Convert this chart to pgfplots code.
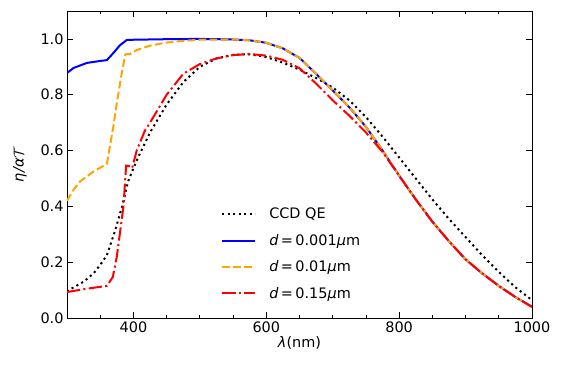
\documentclass[border=0pt]{standalone}
\usepackage{fontspec}
\setmainfont{DejaVu Sans}
\usepackage{pgfplots}
\pgfplotsset{compat=1.18}

\definecolor{mplorange}{RGB}{255,165,0}
\newcommand{\mplfont}{\fontsize{14.5}{17}\selectfont}

\begin{document}
\begin{tikzpicture}[font=\mplfont]
\begin{axis}[
    scale only axis,
    width=465bp, height=307bp,
    xmin=300, xmax=1000,
    ymin=0, ymax=1.1,
    xtick={400,600,800,1000},
    minor xtick={300,350,...,1000},
    ytick={0,0.2,...,1.0},
    tick align=inside,
    major tick length=6bp,
    minor tick length=3.5bp,
    axis line style={line width=0.8pt},
    every tick/.style={black, line width=0.8pt},
    tick label style={font=\mplfont},
    label style={font=\mplfont},
    /pgf/number format/assume math mode=true,
    /pgf/number format/set thousands separator={},
    yticklabel style={/pgf/number format/.cd, fixed, fixed zerofill, precision=1},
    xlabel={\textit{λ}(nm)},
    ylabel={\textit{η/α}$\mathcal{T}$},
    xlabel style={yshift=3bp},
    ylabel style={yshift=7bp},
    legend cell align=left,
    legend style={at={(0.325,0.046)}, anchor=south west, draw=none, fill=none,
        row sep=10bp, font=\mplfont},
    legend image code/.code={\draw[#1] (0bp,0bp) -- (33bp,0bp); \path (44bp,0bp);},
]
\coordinate (A) at (rel axis cs:0,0);
\coordinate (B) at (rel axis cs:1,1);

\addplot[black, line width=2bp, dash pattern=on 2.1bp off 3.4bp] coordinates {
(300,0.095) (310,0.11) (325,0.13) (340,0.16) (350,0.19) (360,0.225)
(372,0.31) (383,0.40) (392,0.49) (405,0.565) (425,0.665) (450,0.765)
(475,0.845) (500,0.90) (525,0.93) (550,0.943) (575,0.945) (600,0.935)
(625,0.915) (650,0.89) (675,0.86) (700,0.826) (725,0.78) (750,0.72)
(775,0.65) (800,0.575) (825,0.50) (850,0.425) (875,0.355) (900,0.29)
(925,0.225) (950,0.165) (975,0.11) (1000,0.064)
};
\addlegendentry{CCD QE}

\addplot[blue, line width=2bp] coordinates {
(300,0.878) (310,0.896) (330,0.914) (350,0.921) (360,0.924) (370,0.95)
(380,0.978) (390,0.996) (400,0.997) (450,0.999) (500,1.0) (550,0.998)
(575,0.995) (600,0.986) (625,0.966) (650,0.932) (675,0.875) (700,0.815)
(725,0.755) (750,0.685) (775,0.60) (800,0.51) (825,0.425) (850,0.345)
(875,0.275) (900,0.21) (925,0.16) (950,0.115) (975,0.075) (1000,0.04)
};
\addlegendentry{\textit{d}\,=\,0.001\textit{μ}m}

\addplot[mplorange, line width=2bp, dash pattern=on 7.7bp off 3.3bp] coordinates {
(300,0.42) (310,0.46) (320,0.49) (340,0.525) (360,0.552) (365,0.62)
(370,0.69) (375,0.77) (383,0.886) (388,0.945) (395,0.946) (405,0.96)
(425,0.976) (450,0.987) (475,0.993) (500,0.997) (550,0.998)
(575,0.995) (600,0.986) (625,0.966) (650,0.932) (675,0.875) (700,0.815)
(725,0.755) (750,0.685) (775,0.60) (800,0.51) (825,0.425) (850,0.345)
(875,0.275) (900,0.21) (925,0.16) (950,0.115) (975,0.075) (1000,0.04)
};
\addlegendentry{\textit{d}\,=\,0.01\textit{μ}m}

\addplot[red, line width=2bp, dash pattern=on 13.3bp off 3.3bp on 2.1bp off 3.3bp] coordinates {
(300,0.093) (330,0.105) (360,0.115) (369,0.147) (375,0.22) (380,0.31)
(385,0.40) (389,0.546) (393,0.545) (398,0.537) (405,0.60) (417,0.67)
(425,0.70) (450,0.80) (475,0.875) (500,0.91) (525,0.93) (550,0.942)
(575,0.946) (600,0.94) (625,0.925) (650,0.895) (675,0.84) (700,0.78)
(725,0.725) (750,0.665) (775,0.595) (800,0.51) (825,0.425) (850,0.345)
(875,0.275) (900,0.21) (925,0.16) (950,0.115) (975,0.075) (1000,0.04)
};
\addlegendentry{\textit{d}\,=\,0.15\textit{μ}m}
\end{axis}
\pgfresetboundingbox
\path[use as bounding box] ([xshift=-67bp,yshift=-53bp]A) rectangle ([xshift=31bp,yshift=11bp]B);
\end{tikzpicture}
\end{document}
